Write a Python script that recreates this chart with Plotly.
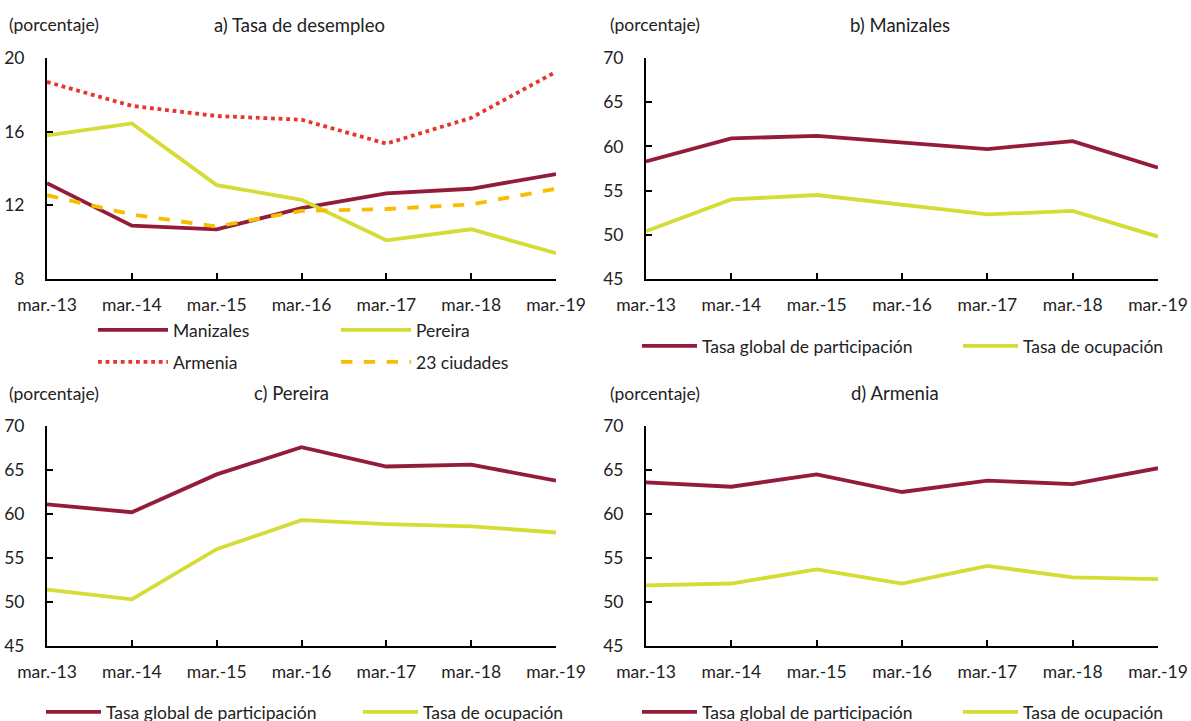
import plotly.graph_objects as go

fechas = ["mar.-13", "mar.-14", "mar.-15", "mar.-16", "mar.-17", "mar.-18", "mar.-19"]

# a) Tasa de desempleo
des_manizales = [13.2, 10.9, 10.7, 11.85, 12.65, 12.9, 13.7]
des_pereira = [15.8, 16.45, 13.1, 12.3, 10.1, 10.7, 9.4]
des_armenia = [18.7, 17.4, 16.85, 16.65, 15.35, 16.75, 19.25]
des_23 = [12.55, 11.5, 10.85, 11.7, 11.8, 12.05, 12.9]

# b) Manizales
man_tgp = [58.3, 60.9, 61.2, 60.5, 59.7, 60.6, 57.6]
man_to = [50.4, 54.0, 54.5, 53.4, 52.3, 52.7, 49.8]

# c) Pereira
per_tgp = [61.1, 60.2, 64.5, 67.6, 65.4, 65.6, 63.8]
per_to = [51.4, 50.3, 56.0, 59.3, 58.85, 58.6, 57.9]

# d) Armenia
arm_tgp = [63.6, 63.1, 64.5, 62.5, 63.8, 63.4, 65.2]
arm_to = [51.9, 52.1, 53.7, 52.1, 54.1, 52.8, 52.6]

RED = "#931C3B"
YEL = "#D5DC35"
DOT = "#E8352B"
ORG = "#F8BC00"
FONT = "Lato"
FS = 17.5
TXT = "#222222"
W, H = 1191, 721

x = list(range(len(fechas)))
fig = go.Figure()

def px_x(p):
    return p / W

def px_y(p):
    return 1 - p / H

def add(xa, ya, ys, name, color, dash, leg):
    fig.add_trace(go.Scatter(x=x, y=ys, name=name, mode="lines", xaxis=xa, yaxis=ya,
                             line=dict(color=color, width=3.8, dash=dash), legend=leg))

add("x", "y", des_manizales, "Manizales", RED, "solid", "legend")
add("x", "y", des_pereira, "Pereira", YEL, "solid", "legend")
add("x", "y", des_armenia, "Armenia", DOT, "dot", "legend2")
add("x", "y", des_23, "23 ciudades", ORG, "dash", "legend2")
add("x2", "y2", man_tgp, "Tasa global de participación", RED, "solid", "legend3")
add("x2", "y2", man_to, "Tasa de ocupación", YEL, "solid", "legend3")
add("x3", "y3", per_tgp, "Tasa global de participación", RED, "solid", "legend4")
add("x3", "y3", per_to, "Tasa de ocupación", YEL, "solid", "legend4")
add("x4", "y4", arm_tgp, "Tasa global de participación", RED, "solid", "legend5")
add("x4", "y4", arm_to, "Tasa de ocupación", YEL, "solid", "legend5")

panels = [
    ("xaxis", "yaxis", 47, 556, 58, 279, [8, 20], 4, "y", "x"),
    ("xaxis2", "yaxis2", 646, 1158, 58, 279, [45, 70], 5, "y2", "x2"),
    ("xaxis3", "yaxis3", 47, 556, 426, 646, [45, 70], 5, "y3", "x3"),
    ("xaxis4", "yaxis4", 646, 1158, 426, 646, [45, 70], 5, "y4", "x4"),
]

layout = dict(
    width=W, height=H, margin=dict(l=0, r=0, t=0, b=0, autoexpand=False),
    paper_bgcolor="white", plot_bgcolor="white",
    font=dict(family=FONT, size=FS, color=TXT),
    showlegend=True,
)

for xa, ya, x0, x1, yt, yb, rng, dt, yref, xref in panels:
    layout[xa] = dict(domain=[px_x(x0), px_x(x1)], range=[0, 6], anchor=yref,
                      tickmode="array", tickvals=x, ticktext=fechas,
                      showline=True, linecolor="black", linewidth=2,
                      ticks="inside", ticklen=6, tickwidth=2, tickcolor="black",
                      showgrid=False, zeroline=False, fixedrange=True,
                      ticklabelstandoff=9, tickfont=dict(size=FS, color=TXT))
    layout[ya] = dict(domain=[px_y(yb), px_y(yt)], range=rng, anchor=xref,
                      dtick=dt, tick0=rng[0],
                      showline=True, linecolor="black", linewidth=2,
                      ticks="inside", ticklen=6, tickwidth=2, tickcolor="black",
                      showgrid=False, zeroline=False, fixedrange=True,
                      ticklabelstandoff=17, tickfont=dict(size=FS, color=TXT))

def leg(xp, yp, ew, iw):
    return dict(orientation="h", x=px_x(xp), y=px_y(yp), xanchor="left", yanchor="middle",
                entrywidth=ew, entrywidthmode="pixels", itemwidth=iw,
                bgcolor="rgba(0,0,0,0)", borderwidth=0,
                font=dict(family=FONT, size=FS, color=TXT), traceorder="normal")

layout["legend"] = leg(93, 330, 158, 70)
layout["legend2"] = leg(93, 362, 158, 70)
layout["legend3"] = leg(637, 346, 251, 55)
layout["legend4"] = leg(41, 712, 247, 55)
layout["legend5"] = leg(637, 712, 251, 55)

ann = []
for xp, yp, txt in [(7, 25, "(porcentaje)"), (608, 25, "(porcentaje)"),
                    (7, 393, "(porcentaje)"), (608, 393, "(porcentaje)")]:
    ann.append(dict(x=px_x(xp), y=px_y(yp), xref="paper", yref="paper", text=txt,
                    showarrow=False, xanchor="left", yanchor="middle",
                    font=dict(family=FONT, size=FS, color=TXT)))
for xp, yp, txt in [(299, 25, "a) Tasa de desempleo"), (900, 25, "b) Manizales"),
                    (291, 393, "c) Pereira"), (895, 393, "d) Armenia")]:
    ann.append(dict(x=px_x(xp), y=px_y(yp), xref="paper", yref="paper", text=txt,
                    showarrow=False, xanchor="center", yanchor="middle",
                    font=dict(family=FONT, size=18.5, color=TXT)))
layout["annotations"] = ann

fig.update_layout(**layout)
fig.write_html("out.html", config={"displayModeBar": False},
               post_script="document.body.style.margin='0';")
